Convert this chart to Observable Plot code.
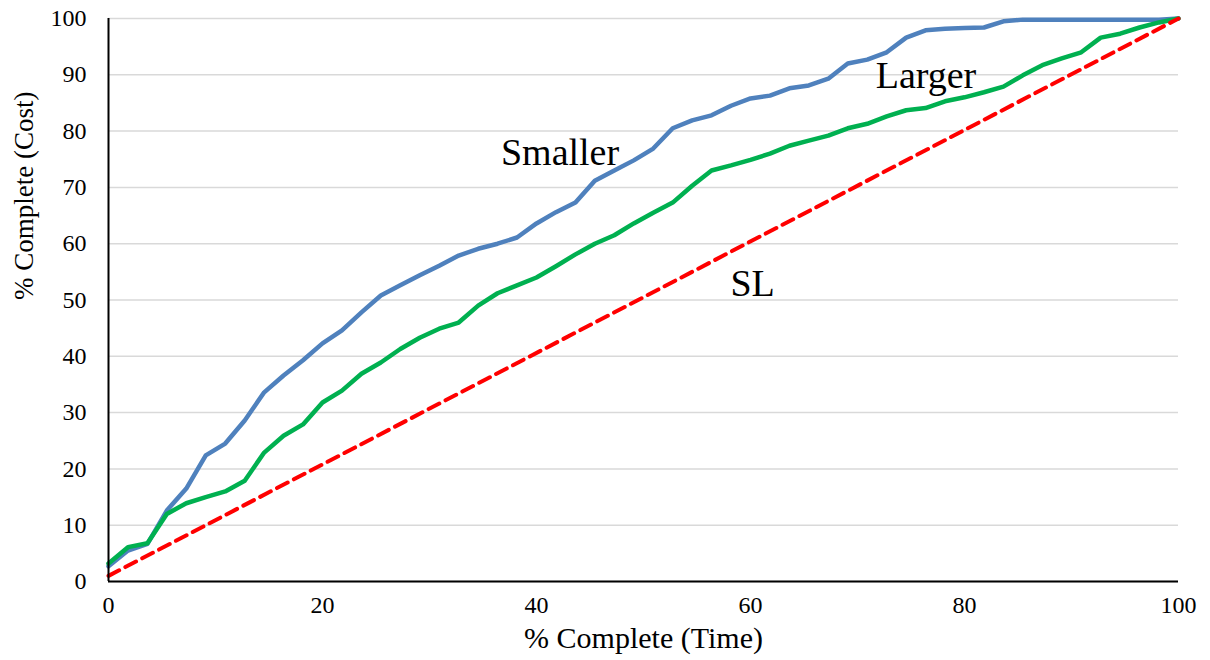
<!DOCTYPE html>
<html><head><meta charset="utf-8">
<script src="https://cdn.jsdelivr.net/npm/d3@7"></script>
<script src="https://cdn.jsdelivr.net/npm/@observablehq/plot@0.6"></script>
<style>body{margin:0;background:#fff} svg text{font-family:"Liberation Serif","Times New Roman",serif}</style>
</head><body><div id="chart"></div>
<script>
const timePct = [0, 1.82, 3.64, 5.45, 7.27, 9.09, 10.91, 12.73, 14.55, 16.36, 18.18, 20, 21.82, 23.64, 25.45, 27.27, 29.09, 30.91, 32.73, 34.55, 36.36, 38.18, 40, 41.82, 43.64, 45.45, 47.27, 49.09, 50.91, 52.73, 54.55, 56.36, 58.18, 60, 61.82, 63.64, 65.45, 67.27, 69.09, 70.91, 72.73, 74.55, 76.36, 78.18, 80, 81.82, 83.64, 85.45, 87.27, 89.09, 90.91, 92.73, 94.55, 96.36, 98.18, 100];
const smaller = [2.7, 5.5, 6.7, 12.6, 16.5, 22.4, 24.5, 28.6, 33.6, 36.6, 39.3, 42.3, 44.6, 47.8, 50.8, 52.6, 54.4, 56.1, 57.9, 59.1, 60.0, 61.1, 63.6, 65.6, 67.3, 71.2, 73.0, 74.8, 76.9, 80.5, 81.9, 82.8, 84.5, 85.8, 86.3, 87.6, 88.1, 89.3, 92.0, 92.7, 94.0, 96.6, 97.9, 98.2, 98.3, 98.4, 99.5, 99.8, 99.8, 99.8, 99.8, 99.8, 99.8, 99.8, 99.8, 100];
const larger = [3.2, 6.1, 6.8, 12.0, 13.9, 15.0, 16.0, 17.9, 22.9, 25.9, 27.9, 31.8, 33.9, 36.9, 38.9, 41.3, 43.3, 44.9, 46.0, 49.0, 51.2, 52.6, 54.0, 56.0, 58.1, 60.0, 61.5, 63.6, 65.5, 67.3, 70.3, 73.0, 73.9, 74.9, 76.0, 77.4, 78.3, 79.2, 80.5, 81.3, 82.6, 83.7, 84.1, 85.3, 86.0, 86.9, 87.9, 89.9, 91.7, 92.9, 94.0, 96.6, 97.3, 98.4, 99.3, 100];
const slTime = [0, 100];
const slCost = [1, 100];
const xTicks = [0, 20, 40, 60, 80, 100];
const yTicks = [0, 10, 20, 30, 40, 50, 60, 70, 80, 90, 100];
const labelText = ["Smaller", "Larger", "SL"];
const labelX = [42.2, 76.4, 60.2];
const labelY = [76.2, 89.9, 52.8];

const rows = (ys) => timePct.map((t, i) => ({t, v: ys[i]}));
const sl = slTime.map((t, i) => ({t, v: slCost[i]}));
const labels = labelText.map((text, i) => ({text, x: labelX[i], y: labelY[i]}));
const serif = "Liberation Serif";

const chart = Plot.plot({
  width: 1210, height: 660,
  marginLeft: 108, marginRight: 32, marginTop: 18, marginBottom: 79,
  style: {fontFamily: serif, fontSize: "23px", color: "#000", background: "#fff"},
  x: {domain: [0, 100]},
  y: {domain: [0, 100]},
  marks: [
    Plot.gridY(yTicks, {stroke: "#d9d9d9", strokeOpacity: 1, strokeWidth: 1.5}),
    Plot.axisX(xTicks, {tickSize: 0, tickPadding: 14, label: null, fontSize: 24, fontFamily: serif}),
    Plot.axisY(yTicks, {tickSize: 0, tickPadding: 22, label: null, fontSize: 24, fontFamily: serif}),
    Plot.line(rows(smaller), {x: "t", y: "v", stroke: "#4f81bd", strokeWidth: 4.5, strokeLinejoin: "round"}),
    Plot.line(rows(larger), {x: "t", y: "v", stroke: "#00b050", strokeWidth: 4.5, strokeLinejoin: "round"}),
    Plot.line(sl, {x: "t", y: "v", stroke: "#ff0000", strokeWidth: 4, strokeDasharray: "12,7"}),
    Plot.ruleX([0], {stroke: "#000", strokeWidth: 2}),
    Plot.ruleY([0], {stroke: "#000", strokeWidth: 2}),
    Plot.text(labels, {x: "x", y: "y", text: "text", fontSize: 38, fill: "#000", fontFamily: serif}),
    Plot.text(["% Complete (Time)"], {frameAnchor: "bottom", lineAnchor: "middle", dy: 57, fontSize: 30, fill: "#000", fontFamily: serif}),
    Plot.text(["% Complete (Cost)"], {frameAnchor: "left", dx: -84, rotate: -90, fontSize: 27, fill: "#000", fontFamily: serif})
  ]
});
document.getElementById("chart").appendChild(chart);
</script>
</body></html>
